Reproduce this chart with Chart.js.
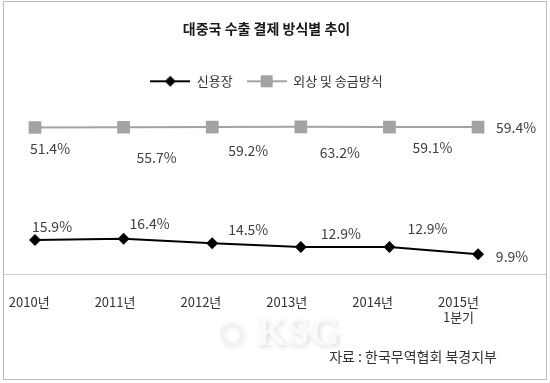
<!DOCTYPE html>
<html><head><meta charset="utf-8">
<script src="https://cdn.jsdelivr.net/npm/chart.js@4/dist/chart.umd.min.js"></script>
<style>html,body{margin:0;padding:0;background:#fff}canvas{display:block}</style>
</head><body>
<canvas id="c" width="550" height="383"></canvas>
<script>
const categories = [["2010년"], ["2011년"], ["2012년"], ["2013년"], ["2014년"], ["2015년", "1분기"]];
const lcValues = [15.9, 16.4, 14.5, 12.9, 12.9, 9.9];        // 신용장
const remitValues = [51.4, 55.7, 59.2, 63.2, 59.1, 59.4];    // 외상 및 송금방식
const seriesNames = ["신용장", "외상 및 송금방식"];

// label offsets (styling, relative to each drawn point)
const lcLabelOffsets = [[17,-13],[26,-15],[36,-14],[40,-13],[38,-18],[34,3]];
const remitLabelOffsets = [[15,21],[33,30],[36,24],[39,26],[43,21],[38,1]];

const FONT = "'Noto Sans CJK KR', 'Noto Sans', sans-serif";
const BLACK = '#000000', GRAY = '#a3a3a3';

function legendImg(color, style) {
  const c = document.createElement('canvas'); c.width = 40; c.height = 14;
  const x = c.getContext('2d');
  x.strokeStyle = color; x.lineWidth = 2;
  x.beginPath(); x.moveTo(0, 7); x.lineTo(40, 7); x.stroke();
  x.fillStyle = color;
  if (style === 'diamond') { x.beginPath(); x.moveTo(20,1.5); x.lineTo(25.5,7); x.lineTo(20,12.5); x.lineTo(14.5,7); x.closePath(); x.fill(); }
  else { x.fillRect(14, 1, 12, 12); }
  return c;
}
const legendImgs = [legendImg(BLACK, 'diamond'), legendImg(GRAY, 'square')];

const toPts = arr => arr.map((v, i) => ({x: i, y: v}));

const decor = {
  id: 'decor',
  afterLayout(chart) {
    [chart.legend, chart.titleBlock].forEach(b => { if (b) { b.left -= 8; b.right -= 8; } });
  },
  beforeDraw(chart) {
    const ctx = chart.ctx;
    ctx.save();
    ctx.fillStyle = '#fff'; ctx.fillRect(0, 0, 550, 383);
    // watermark
    ctx.font = "bold 40px 'Liberation Serif', serif";
    ctx.textAlign = 'left'; ctx.textBaseline = 'middle';
    ctx.shadowColor = 'rgba(0,0,0,0.14)'; ctx.shadowBlur = 4; ctx.shadowOffsetX = 2; ctx.shadowOffsetY = 2;
    ctx.fillStyle = '#fafafa';
    ctx.fillText('KSG', 256, 335);
    ctx.beginPath(); ctx.arc(231, 334, 10, 0, Math.PI*2);
    ctx.strokeStyle = '#f2f2f2'; ctx.lineWidth = 2; ctx.stroke();
    ctx.restore();
  },
  afterDatasetsDraw(chart) {
    const ctx = chart.ctx;
    ctx.save();
    ctx.font = '14px ' + FONT;
    ctx.fillStyle = '#404040';
    ctx.textAlign = 'center'; ctx.textBaseline = 'middle';
    const sets = [[lcValues, lcLabelOffsets], [remitValues, remitLabelOffsets]];
    sets.forEach(([vals, offs], d) => {
      const meta = chart.getDatasetMeta(d);
      meta.data.forEach((p, i) => {
        ctx.fillText(vals[i].toFixed(1) + '%', p.x + offs[i][0], p.y + offs[i][1]);
      });
    });
    ctx.restore();
  },
  afterDraw(chart) {
    const ctx = chart.ctx;
    ctx.save();
    ctx.font = '14px ' + FONT;
    ctx.fillStyle = '#333';
    ctx.textAlign = 'right'; ctx.textBaseline = 'middle';
    ctx.fillText('자료 : 한국무역협회 북경지부', 497, 357);
    ctx.strokeStyle = '#bcbcbc'; ctx.lineWidth = 1;
    ctx.strokeRect(3.5, 1.5, 543, 378);
    ctx.restore();
  }
};

new Chart(document.getElementById('c'), {
  type: 'line',
  data: {
    datasets: [
      { label: seriesNames[0], data: toPts(lcValues), borderColor: BLACK, backgroundColor: BLACK,
        borderWidth: 2, pointStyle: 'rectRot', pointRadius: 6, pointBorderWidth: 0, yAxisID: 'y', xAxisID: 'x' },
      { label: seriesNames[1], data: toPts(remitValues), borderColor: GRAY, backgroundColor: GRAY,
        borderWidth: 2, pointStyle: 'rect', pointRadius: 9, pointBorderWidth: 0, yAxisID: 'y2', xAxisID: 'x' }
    ]
  },
  options: {
    responsive: false, animation: false, devicePixelRatio: 1,
    layout: { autoPadding: false, padding: { top: 2, left: 3, right: 4, bottom: 0 } },
    plugins: {
      title: { display: true, text: '대중국 수출 결제 방식별 추이', color: '#1a1a1a',
        font: { family: FONT, size: 14, weight: 'bold' }, padding: { top: 18, bottom: 24 } },
      legend: { display: true, position: 'top',
        labels: { usePointStyle: true, pointStyleWidth: 40, boxHeight: 13, padding: 14, color: '#333',
          font: { family: FONT, size: 13 },
          generateLabels(chart) {
            const items = Chart.defaults.plugins.legend.labels.generateLabels(chart);
            items.forEach((it, i) => { it.pointStyle = legendImgs[i]; });
            return items;
          } } },
      tooltip: { enabled: false }
    },
    scales: {
      x: { type: 'linear', display: false, min: -0.361, max: 5.767 },
      xl: { type: 'linear', position: 'bottom', min: -0.305, max: 6.019, weight: 1,
        grid: { display: false, drawTicks: false },
        border: { display: true, color: '#d0d0d0', width: 1 },
        afterBuildTicks: s => { s.ticks = categories.map((_, i) => ({ value: i })); },
        afterFit: s => { s.height = 109; s.paddingLeft = 0; s.paddingRight = 0; },
        ticks: { autoSkip: false, maxRotation: 0, padding: 20, color: '#333',
          font: { family: FONT, size: 13 }, callback: v => categories[v] } },
      y: { type: 'linear', display: false, min: 1.5, max: 76 },
      y2: { type: 'linear', display: false, min: -2443, max: 557 }
    }
  },
  plugins: [decor]
});
</script>
</body></html>
